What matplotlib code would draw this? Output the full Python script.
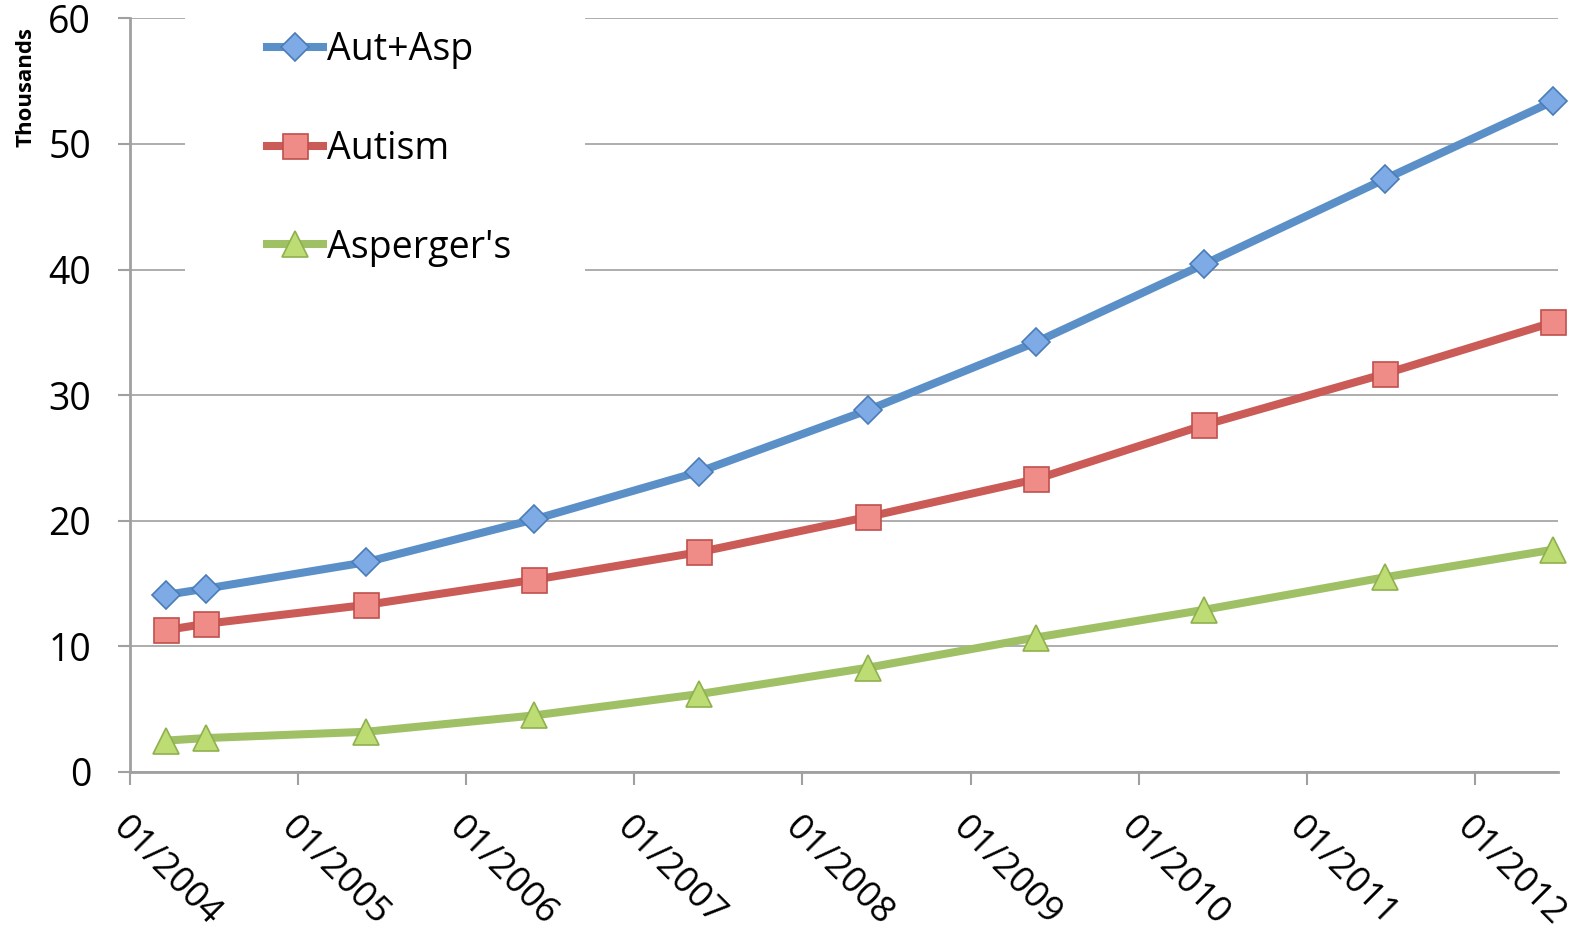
import pandas as pd
import numpy as np
import matplotlib
matplotlib.use('Agg')
import matplotlib.pyplot as plt
import matplotlib.dates as mdates
from matplotlib.patches import Rectangle

# Data (thousands)
dates = ['2004-03-20', '2004-06-15', '2005-05-28', '2006-05-28', '2007-05-22',
         '2008-05-22', '2009-05-22', '2010-05-22', '2011-06-20', '2012-06-20']
aut_asp = [14.1, 14.6, 16.7, 20.1, 23.9, 28.8, 34.2, 40.4, 47.2, 53.4]
autism = [11.3, 11.8, 13.3, 15.3, 17.5, 20.3, 23.3, 27.6, 31.7, 35.8]
asperger = [2.5, 2.7, 3.2, 4.5, 6.2, 8.3, 10.7, 12.9, 15.5, 17.7]

labels = ['Aut+Asp', 'Autism', "Asperger's"]
line_colors = ['#5B8FC7', '#CB5B56', '#A0C066']
face_colors = ['#7EAAE6', '#F08C88', '#BEDC74']
edge_colors = ['#4A7DB8', '#C0504D', '#8EB04E']
markers = ['D', 's', '^']
msizes = [14, 18, 19]

x = pd.to_datetime(dates)

plt.rcParams['font.family'] = ['Open Sans', 'DejaVu Sans']

fig = plt.figure(figsize=(15.95, 9.33), dpi=100)
ax = fig.add_axes([0.0815, 0.1726, 0.8955, 0.8078])

grid_col = '#A0A0A0'
ax.set_ylim(0, 60)
ax.set_yticks(range(0, 61, 10))
ax.yaxis.grid(True, color=grid_col, linewidth=1.2, zorder=0)
ax.set_axisbelow(True)

# white box behind the legend hides the gridlines there
ax.add_patch(Rectangle((0.0385, 0.645), 0.28, 0.4, transform=ax.transAxes,
                       facecolor='white', edgecolor='none', zorder=1, clip_on=False))

for ys, lab, lc, fc, ec, mk, ms in zip([aut_asp, autism, asperger], labels, line_colors,
                                       face_colors, edge_colors, markers, msizes):
    ax.plot(x, ys, color=lc, linewidth=5.8, marker=mk, markersize=ms,
            markerfacecolor=fc, markeredgecolor=ec, markeredgewidth=1.2,
            label=lab, zorder=3, clip_on=False)

ax.set_xlim(pd.Timestamp('2004-01-01'), pd.Timestamp('2012-07-01'))
ax.xaxis.set_major_locator(mdates.YearLocator())
ax.xaxis.set_major_formatter(mdates.DateFormatter('%m/%Y'))

for s in ['top', 'right']:
    ax.spines[s].set_visible(False)
for s in ['left', 'bottom']:
    ax.spines[s].set_color(grid_col)
    ax.spines[s].set_linewidth(2)

ax.tick_params(axis='both', colors=grid_col, labelcolor='black', length=9, width=1.5,
               labelsize=27)
ax.tick_params(axis='y', pad=19)
ax.tick_params(axis='x', pad=18)
for t in ax.get_xticklabels():
    t.set_rotation(-45)
    t.set_ha('left')
    t.set_va('top')
    t.set_rotation_mode('anchor')
    t.set_fontsize(26)

fig.text(0.016, 0.907, 'Thousands', rotation=90, fontsize=16, fontweight='bold',
         ha='center', va='center')

leg = ax.legend(loc='upper left', bbox_to_anchor=(0.0956, 0.983), frameon=False,
                fontsize=27, handlelength=1.5, handletextpad=0.1, labelspacing=1.62,
                borderpad=0, borderaxespad=0)
leg.set_zorder(4)

fig.savefig('out.png', dpi=100)
